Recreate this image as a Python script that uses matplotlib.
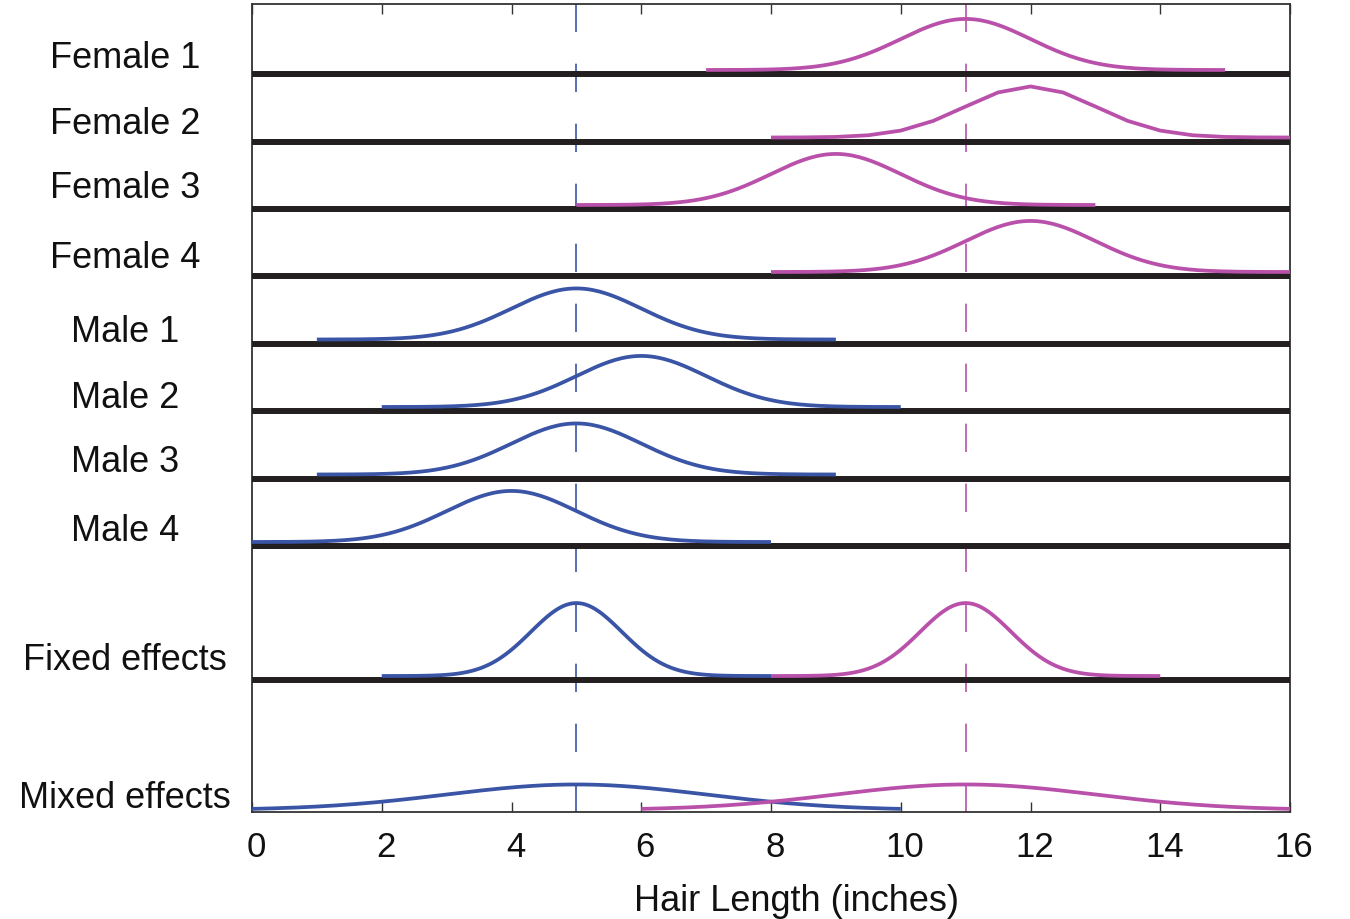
import numpy as np
import matplotlib
matplotlib.use('Agg')
import matplotlib.pyplot as plt
from matplotlib.transforms import ScaledTranslation

plt.rcParams['font.family'] = ['Liberation Sans', 'DejaVu Sans']

# row labels, top to bottom
labels = ['Female 1', 'Female 2', 'Female 3', 'Female 4',
          'Male 1', 'Male 2', 'Male 3', 'Male 4',
          'Fixed effects', 'Mixed effects']

# individual subjects: mean hair length (inches), sd = 1, drawn mean +/- 4
female_means = [11, 12, 9, 12]
male_means = [5, 6, 5, 4]
subject_sd = 1.0
subject_half_range = 4
# Female 2 was sampled on a coarse grid in the original
female_steps = [0.05, 0.5, 0.05, 0.05]

# group level estimates
group_means = [5, 11]  # male, female
fixed_sd = 0.7
fixed_half_range = 3
mixed_sd = 2.0
mixed_half_range = 5

ticks = [0, 2, 4, 6, 8, 10, 12, 14, 16]

# layout (pixels above the bottom of the axes)
row_base = [737.5, 670, 602.5, 535.5, 468, 400.5, 333, 265.5, 131.5, 0]
label_lift = [20, 21, 25, 22, 16, 17, 20, 19, 24.5, 17.5]
px_per_density = 128
curve_lift = 4

blue = '#3a54a6'
pink = '#b950aa'
dark = '#231f20'


def normal_pdf(x, mu, sd):
    return np.exp(-0.5 * ((x - mu) / sd) ** 2) / (sd * np.sqrt(2 * np.pi))


def draw_curve(ax, base, mu, sd, half_range, step, color, lift=curve_lift):
    x = np.arange(mu - half_range, mu + half_range + step / 2, step)
    y = base + lift + px_per_density * normal_pdf(x, mu, sd)
    ax.plot(x, y, color=color, lw=2.7, zorder=4, solid_capstyle='butt')


fig = plt.figure(figsize=(13.5, 9.2), dpi=100)
ax = fig.add_axes([252 / 1350, (920 - 812.5) / 920, 1038 / 1350, 807.5 / 920])

# population means
ax.axvline(group_means[0], color=blue, lw=1.2, dashes=(17, 19), zorder=2)
ax.axvline(group_means[1], color=pink, lw=1.2, dashes=(17, 19), zorder=2)

# thick separators
for i in range(len(labels) - 1):
    ax.axhline(row_base[i], color=dark, lw=4.3, zorder=3)

# subjects
for i in range(4):
    draw_curve(ax, row_base[i], female_means[i], subject_sd, subject_half_range,
               female_steps[i], pink)
for i in range(4):
    draw_curve(ax, row_base[4 + i], male_means[i], subject_sd, subject_half_range,
               0.05, blue)

# fixed effects
draw_curve(ax, row_base[8], group_means[0], fixed_sd, fixed_half_range, 0.05, blue)
draw_curve(ax, row_base[8], group_means[1], fixed_sd, fixed_half_range, 0.05, pink)

# mixed effects
draw_curve(ax, row_base[9], group_means[0], mixed_sd, mixed_half_range, 0.05, blue, lift=1.5)
draw_curve(ax, row_base[9], group_means[1], mixed_sd, mixed_half_range, 0.05, pink, lift=1.5)

# row labels
trans = ax.get_yaxis_transform()
for i in range(len(labels)):
    ax.text(-0.122, row_base[i] + label_lift[i] - 13, labels[i], transform=trans,
            ha='center', va='baseline', fontsize=26, color='#111111')

ax.set_xlim(0, 16)
ax.set_ylim(0, 807.5)
ax.set_xticks(ticks)
ax.set_xticklabels([str(t) for t in ticks])
ax.set_yticks([])
ax.tick_params(axis='x', direction='in', top=True, length=7, width=1.0,
               color='#333333', labelsize=25, pad=13, labelcolor='#111111')
# tick labels sit a few pixels right of their ticks in the original
shift = ScaledTranslation(4 / 100, 0, fig.dpi_scale_trans)
for lab in ax.get_xticklabels():
    lab.set_transform(lab.get_transform() + shift)
for s in ax.spines.values():
    s.set_color('#333333')
    s.set_linewidth(1.3)

ax.set_xlabel('Hair Length (inches)', fontsize=26, color='#111111', va='top')
ax.xaxis.set_label_coords(0.525, -0.088)

fig.savefig('out.png', dpi=100)
